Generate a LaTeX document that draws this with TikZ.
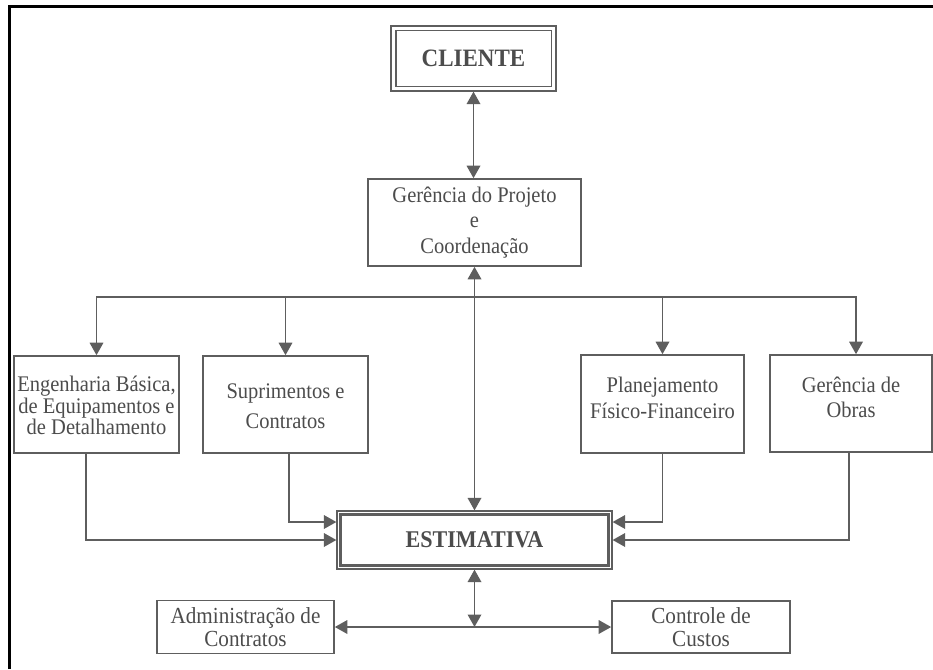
\documentclass[tikz,border=0pt]{standalone}
\usepackage{fontspec}
\setmainfont{Liberation Serif}[FakeStretch=0.92]
\usetikzlibrary{arrows.meta,calc}
\definecolor{ink}{HTML}{5E5E5E}
\definecolor{txt}{HTML}{4C4C4C}
\begin{document}
\begin{tikzpicture}[x=1pt,y=-1pt,
  box/.style={draw=ink,line width=1.6pt,fill=white,inner sep=0pt},
  lbl/.style={text=txt,align=center,inner sep=0pt},
  conn/.style={draw=ink,line width=1.8pt},
  tip/.style={-{Triangle[width=13.5pt,length=12.5pt]}},
  both/.style={{Triangle[width=13.5pt,length=12.5pt]}-{Triangle[width=13.5pt,length=12.5pt]}},
]
\useasboundingbox (0,0) rectangle (933,669);
\fill[white] (0,0) rectangle (933,669);

% frame edges
\draw[line width=3pt] (9,669) -- (9,7) -- (933,7);

% client, double border
\node[box,line width=1.2pt,minimum width=165pt,minimum height=65pt,
      font=\fontsize{25}{29}\selectfont\bfseries,text=txt] (cli) at (473.5,58.5) {CLIENTE};
\draw[ink,line width=1.2pt] ([shift={(5.5,5.5)}]cli.north west) rectangle ([shift={(-5.5,-5.5)}]cli.south east);

% project management
\node[box,minimum width=213pt,minimum height=87pt] (ger) at (474.5,222.5) {};
\node[lbl,font=\fontsize{22.3}{25.5}\selectfont] (gert) at (ger.center) {Gerência do Projeto\\e\\Coordenação};

% four departments
\node[box,minimum width=165pt,minimum height=97pt] (eng) at (96.5,404.5) {};
\node[lbl,font=\fontsize{22.3}{21.7}\selectfont,yshift=-1pt] (engt) at (eng.center) {Engenharia Básica,\\de Equipamentos e\\de Detalhamento};

\node[box,minimum width=165pt,minimum height=97pt] (sup) at (285.5,404.5) {};
\node[lbl,font=\fontsize{22.3}{30}\selectfont,yshift=-2pt] (supt) at (sup.center) {Suprimentos e\\Contratos};

\node[box,minimum width=163pt,minimum height=98pt] (plan) at (662.5,404) {};
\node[lbl,font=\fontsize{22.3}{26}\selectfont,yshift=6pt] (plant) at (plan.center) {Planejamento\\Físico-Financeiro};

\node[box,minimum width=162pt,minimum height=97pt] (obr) at (851,403.5) {};
\node[lbl,font=\fontsize{22.3}{25}\selectfont,yshift=6pt] (obrt) at (obr.center) {Gerência de\\Obras};

% estimate, thin outer and heavy inner border
\node[box,line width=1.2pt,minimum width=275pt,minimum height=58pt,
      font=\fontsize{24}{28}\selectfont\bfseries,text=txt] (est) at (474.5,540) {ESTIMATIVA};
\draw[ink,line width=3.6pt] ([shift={(4.2,4.2)}]est.north west) rectangle ([shift={(-4.2,-4.2)}]est.south east);

% bottom boxes
\node[box,minimum width=177pt,minimum height=53pt] (adm) at (245.5,627) {};
\node[lbl,font=\fontsize{23}{23.3}\selectfont] (admt) at (adm.center) {Administração de\\Contratos};

\node[box,minimum width=178pt,minimum height=52pt] (ctl) at (701,627) {};
\node[lbl,font=\fontsize{23}{23.3}\selectfont] (ctlt) at (ctl.center) {Controle de\\Custos};

% connectors
\coordinate (bus) at (0,297);
\coordinate (obrx) at ([xshift=5pt]obr.north);

\draw[conn,both] (cli.south) -- (cli.south |- ger.north);
\draw[conn,both] (ger.south) -- (est.north);

\draw[conn,both] (eng.north) -- (eng.north |- bus) -- (obrx |- bus) -- (obrx);
\draw[conn,tip] (sup.north |- bus) -- (sup.north);
\draw[conn,tip] (plan.north |- bus) -- (plan.north);

\draw[conn,tip] ([xshift=-10.5pt]eng.south) |- (est.west);
\draw[conn,tip] ([xshift=3.5pt]sup.south) |- ([yshift=18pt]est.west);
\draw[conn,tip] (plan.south) |- ([yshift=18pt]est.east);
\draw[conn,tip] ([xshift=-2pt]obr.south) |- (est.east);

\coordinate (hub) at (est.south |- adm.east);
\draw[conn,both] (est.south) -- (hub);
\draw[conn,both] (adm.east) -- (ctl.west);
\end{tikzpicture}
\end{document}
